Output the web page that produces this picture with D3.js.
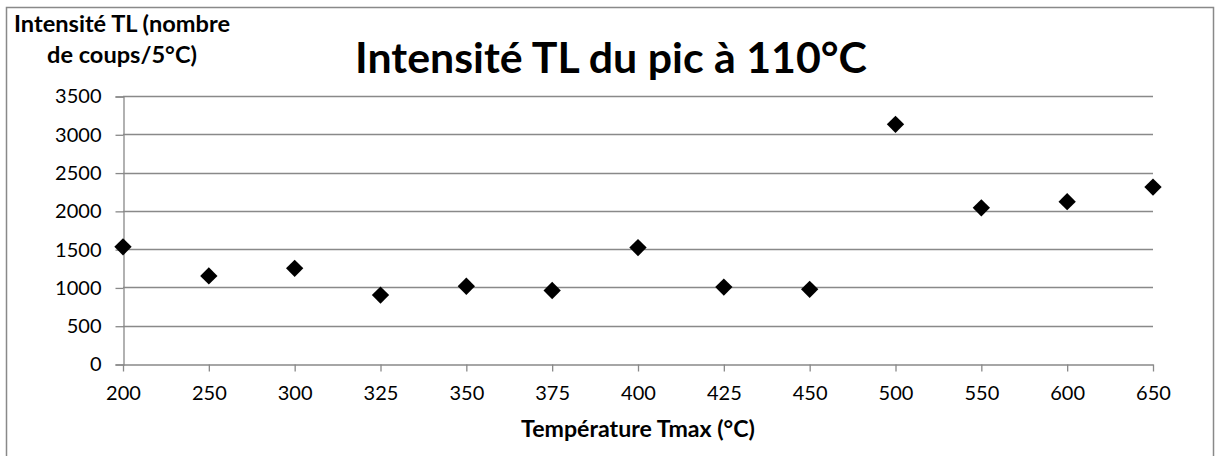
<!DOCTYPE html>
<html><head><meta charset="utf-8">
<script src="https://cdn.jsdelivr.net/npm/d3@7"></script>
<style>
body{margin:0;background:#fff;}
svg{display:block;font-family:Lato,"Open Sans",sans-serif;}
</style></head><body>
<svg id="c" width="1215" height="456"></svg>
<script>
const categories = ["200","250","300","325","350","375","400","425","450","500","550","600","650"];
const intensity = [1530,1150,1250,900,1015,960,1520,1005,975,3130,2040,2120,2310];
const yTicks = [0,500,1000,1500,2000,2500,3000,3500];
const title = "Intensité TL du pic à 110°C";
const yTitle = ["Intensité TL (nombre","de coups/5°C)"];
const xTitle = "Température Tmax (°C)";

const svg = d3.select("#c");
const grey = "#898989";
svg.append("rect").attr("x",6.5).attr("y",7.5).attr("width",1207).attr("height",470)
  .attr("fill","none").attr("stroke",grey).attr("stroke-width",1.5);

const x = d3.scalePoint().domain(categories).range([123,1153]);
const y = d3.scaleLinear().domain([0,3500]).range([364,96]);

// gridlines
svg.append("g").selectAll("line").data(yTicks.filter(d=>d>0)).join("line")
  .attr("x1",123).attr("x2",1153).attr("y1",d=>Math.round(y(d))+0.5).attr("y2",d=>Math.round(y(d))+0.5)
  .attr("stroke",grey).attr("stroke-width",1.3);

// y axis
const ya = svg.append("g").attr("transform","translate(123.5,0.5)")
  .call(d3.axisLeft(y).tickValues(yTicks).tickSize(8).tickPadding(14).tickFormat(d3.format("d")));
ya.attr("font-size",null).attr("font-family",null);
ya.select(".domain").attr("stroke",grey).attr("stroke-width",1.3);
ya.selectAll(".tick line").attr("stroke",grey).attr("stroke-width",1.3);
ya.selectAll("text").style("font-size","20px").attr("fill","#000");

// x axis
const xa = svg.append("g").attr("transform","translate(0,364.5)")
  .call(d3.axisBottom(x).tickSize(7).tickSizeOuter(0).tickPadding(14));
xa.attr("font-size",null).attr("font-family",null);
xa.select(".domain").attr("stroke",grey).attr("stroke-width",1.3);
xa.selectAll(".tick line").attr("stroke",grey).attr("stroke-width",1.3);
xa.selectAll("text").style("font-size","20px").attr("fill","#000");

// points
const sym = d3.symbol(d3.symbolSquare, 150);
svg.append("g").selectAll("path").data(categories.map((c,i)=>[c,intensity[i]])).join("path")
  .attr("d",sym)
  .attr("transform",d=>`translate(${x(d[0])},${y(d[1])}) rotate(45)`)
  .attr("fill","#000");

function fit(sel, w){ const l = sel.node().getComputedTextLength(); const fs = +sel.attr("font-size"); sel.attr("font-size", fs*w/l); }

const t = svg.append("text").attr("x",611).attr("y",73).attr("text-anchor","middle")
  .attr("font-weight","bold").attr("font-size",40).text(title);
fit(t,512);

const yt1 = svg.append("text").attr("x",122).attr("y",32).attr("text-anchor","middle")
  .attr("font-weight","bold").attr("font-size",16).text(yTitle[0]);
fit(yt1,216);
svg.append("text").attr("x",122).attr("y",63).attr("text-anchor","middle")
  .attr("font-weight","bold").attr("font-size",yt1.attr("font-size")).text(yTitle[1]);

const xt = svg.append("text").attr("x",638).attr("y",437).attr("text-anchor","middle")
  .attr("font-weight","bold").attr("font-size",16).text(xTitle);
fit(xt,234);
</script></body></html>
